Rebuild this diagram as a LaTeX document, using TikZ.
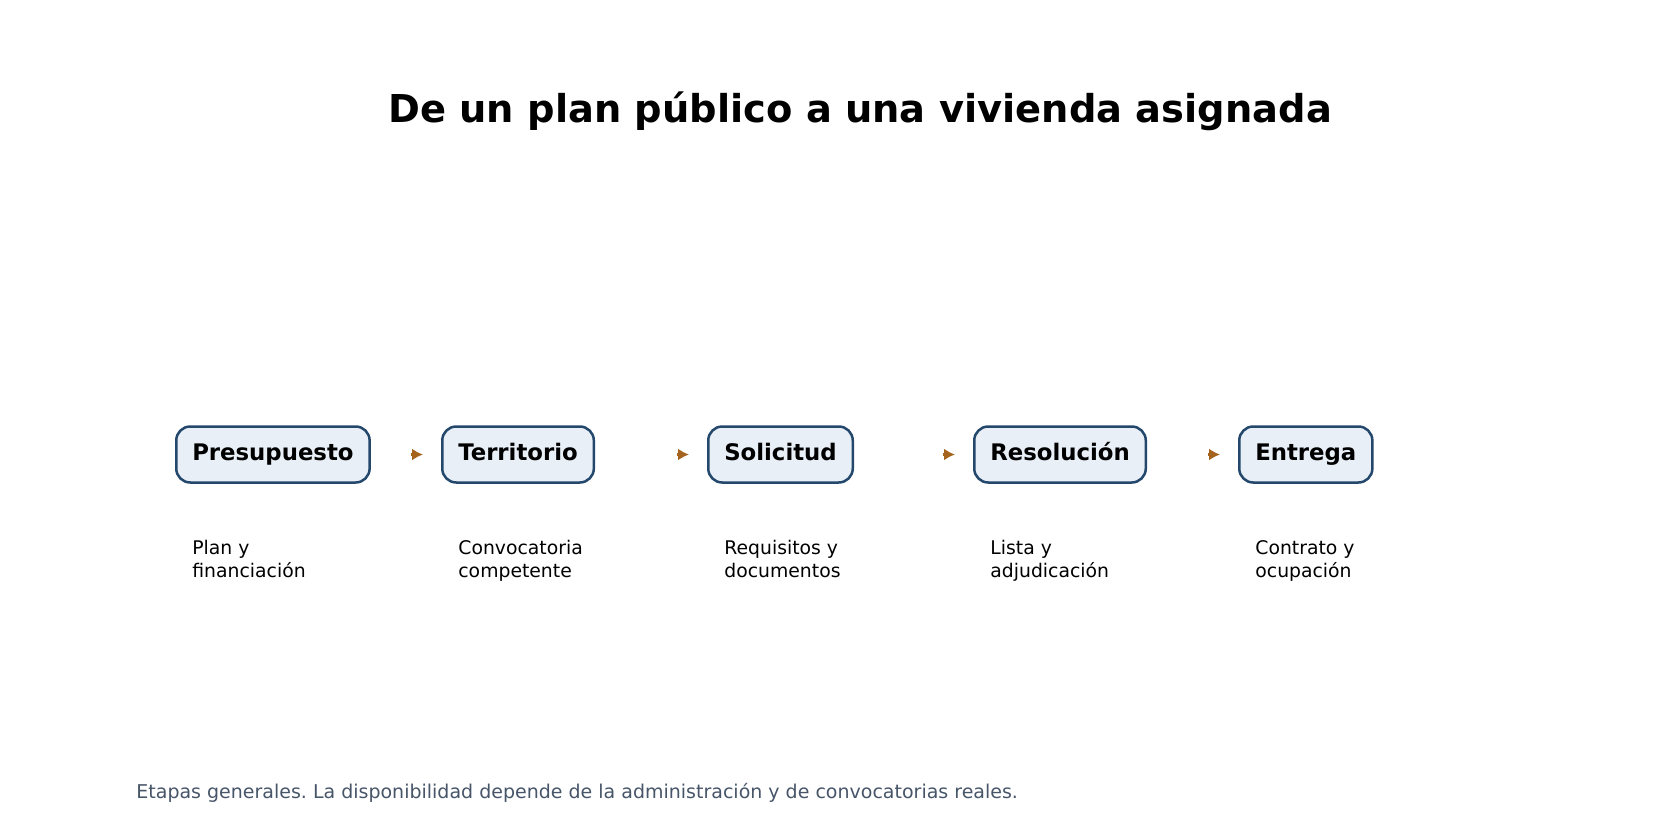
\documentclass[tikz,border=0pt]{standalone}
\usepackage{fontspec}
\setmainfont{DejaVu Sans}
\usetikzlibrary{positioning,arrows.meta}

\definecolor{stageblue}{RGB}{36,72,108}
\definecolor{stagefill}{RGB}{232,239,247}
\definecolor{flowbrown}{RGB}{166,99,30}
\definecolor{notegray}{RGB}{71,85,105}

\tikzset{
	stage/.style={draw=stageblue, fill=stagefill, line width=1.25pt, rounded corners=7pt,
		minimum height=28pt, inner xsep=8pt, anchor=west, text height=8.7pt, text depth=2.4pt,
		font=\fontsize{11.4}{13}\selectfont\bfseries},
	stagenote/.style={align=left, inner sep=0pt, anchor=base west,
		font=\fontsize{9.4}{11.5}\selectfont},
	flow/.style={-{Latex[length=5.5pt,width=6pt]}, line width=1.3pt, flowbrown}
}

\begin{document}
\frenchspacing
\begin{tikzpicture}[x=0.5pt,y=-0.5pt]
		\useasboundingbox (0,0) rectangle (1680,840);

		\node[anchor=base, font=\fontsize{19.2}{23}\selectfont\bfseries] (title) at (860,122) {De un plan público a una vivienda asignada};

		\node[stage] (pres) at (175,454.5) {Presupuesto};
		\node[stage] (terr) at (441,454.5) {Territorio};
		\node[stage] (soli) at (707,454.5) {Solicitud};
		\node[stage] (reso) at (973,454.5) {Resolución};
		\node[stage] (entr) at (1238,454.5) {Entrega};

		\draw[flow] ([xshift=-15pt]terr.west) -- ([xshift=-9pt]terr.west);
		\draw[flow] ([xshift=-15pt]soli.west) -- ([xshift=-9pt]soli.west);
		\draw[flow] ([xshift=-15pt]reso.west) -- ([xshift=-9pt]reso.west);
		\draw[flow] ([xshift=-15pt]entr.west) -- ([xshift=-9pt]entr.west);

		\node[stagenote] (pres-note) at ([xshift=8.5pt,yshift=-47pt]pres.south west) {Plan y\\financiación};
		\node[stagenote] (terr-note) at ([xshift=8.5pt,yshift=-47pt]terr.south west) {Convocatoria\\competente};
		\node[stagenote] (soli-note) at ([xshift=8.5pt,yshift=-47pt]soli.south west) {Requisitos y\\documentos};
		\node[stagenote] (reso-note) at ([xshift=8.5pt,yshift=-47pt]reso.south west) {Lista y\\adjudicación};
		\node[stagenote] (entr-note) at ([xshift=8.5pt,yshift=-47pt]entr.south west) {Contrato y\\ocupación};

		\node[anchor=base west, inner sep=0pt, text=notegray, font=\fontsize{9.5}{11}\selectfont] (caption) at (136,798) {Etapas generales. La disponibilidad depende de la administración y de convocatorias reales.};
	\end{tikzpicture}
\end{document}
